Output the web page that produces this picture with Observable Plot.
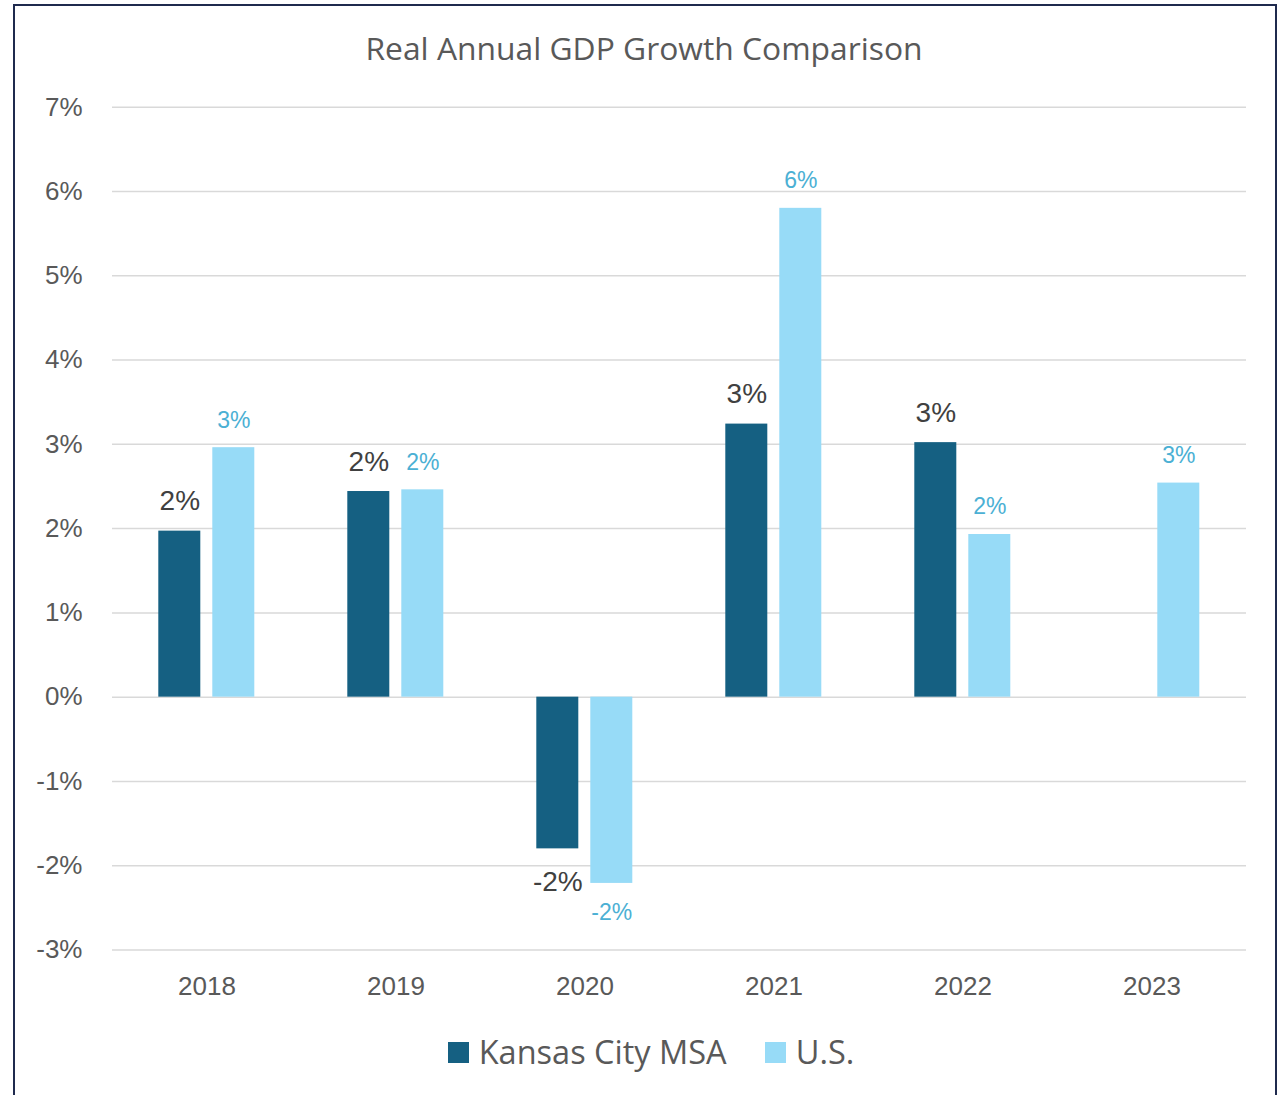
<!DOCTYPE html>
<html>
<head>
<meta charset="utf-8">
<script src="https://cdn.jsdelivr.net/npm/d3@7"></script>
<script src="https://cdn.jsdelivr.net/npm/@observablehq/plot@0.6"></script>
<style>
  html, body { margin: 0; padding: 0; background: #fff; }
  #wrap { position: relative; width: 1286px; height: 1095px; overflow: hidden; background: #fff; }
  #frame { position: absolute; left: 13px; top: 4px; width: 1264px; height: 1200px; border: 2px solid #1f2a4e; box-sizing: border-box; }
  #title { position: absolute; left: 0; width: 1288px; top: 27px; text-align: center; font-family: "Open Sans", sans-serif; font-size: 31.8px; color: #595959; line-height: 42px; }
  #chart { position: absolute; left: 0; top: 70px; }
  #legend { position: absolute; left: 8px; width: 1286px; top: 1030px; display: flex; justify-content: center; align-items: center; font-family: "Open Sans", sans-serif; font-size: 32.5px; color: #595959; line-height: 44px; }
  .item { display: flex; align-items: center; margin: 0 19px; }
  .sw { width: 21px; height: 21px; margin-right: 10px; }
</style>
</head>
<body>
<div id="wrap">
  <div id="frame"></div>
  <div id="title">Real Annual GDP Growth Comparison</div>
  <div id="chart"></div>
  <div id="legend"></div>
</div>
<script>
const years = ["2018", "2019", "2020", "2021", "2022", "2023"];
const kansasCity = [1.97, 2.44, -1.80, 3.24, 3.02, null];
const us = [2.96, 2.46, -2.21, 5.80, 1.93, 2.54];
const seriesNames = ["Kansas City MSA", "U.S."];
const seriesColors = ["#156082", "#97dbf7"];
const labelColors = ["#404040", "#4bb0d4"];
const yTicks = [-3, -2, -1, 0, 1, 2, 3, 4, 5, 6, 7];

const rows = [];
years.forEach((yr, i) => {
  if (kansasCity[i] != null) rows.push({year: yr, series: seriesNames[0], value: kansasCity[i]});
  if (us[i] != null) rows.push({year: yr, series: seriesNames[1], value: us[i]});
});
const fmt = v => Math.round(v) + "%";
const kcRows = rows.filter(d => d.series === seriesNames[0]);
const usRows = rows.filter(d => d.series === seriesNames[1]);

const chart = Plot.plot({
  width: 1286,
  height: 950,
  marginTop: 36.7,
  marginBottom: 70.5,
  marginLeft: 111.7,
  marginRight: 40.3,
  style: {fontFamily: "'Liberation Sans', Arial, sans-serif", fontSize: "26px", color: "#595959", background: "none", overflow: "visible"},
  fx: {domain: years, padding: 0, label: null},
  x: {domain: seriesNames, paddingInner: 0.2222, paddingOuter: 0.8611, axis: null},
  y: {domain: [-3, 7], axis: null},
  color: {domain: seriesNames, range: seriesColors},
  marks: [
    Plot.gridY(yTicks, {stroke: "#d9d9d9", strokeOpacity: 1, strokeWidth: 1.5}),
    Plot.axisY(yTicks, {tickSize: 0, tickPadding: 30, tickFormat: d => d + "%", fontSize: 26, fill: "#595959", label: null}),
    Plot.axisFx({anchor: "bottom", tickSize: 0, tickPadding: 27, fontSize: 26, fill: "#595959", label: null}),
    Plot.barY(rows, {fx: "year", x: "series", y: "value", fill: "series"}),
    Plot.text(kcRows.filter(d => d.value >= 0), {fx: "year", x: "series", y: "value", text: d => fmt(d.value), lineAnchor: "bottom", dy: -21, fontSize: 28, fill: labelColors[0]}),
    Plot.text(kcRows.filter(d => d.value < 0), {fx: "year", x: "series", y: "value", text: d => fmt(d.value), lineAnchor: "top", dy: 22, fontSize: 28, fill: labelColors[0]}),
    Plot.text(usRows.filter(d => d.value >= 0), {fx: "year", x: "series", y: "value", text: d => fmt(d.value), lineAnchor: "bottom", dy: -20, fontSize: 23, fill: labelColors[1]}),
    Plot.text(usRows.filter(d => d.value < 0), {fx: "year", x: "series", y: "value", text: d => fmt(d.value), lineAnchor: "top", dy: 20, fontSize: 23, fill: labelColors[1]})
  ]
});
document.getElementById("chart").appendChild(chart);

const legend = document.getElementById("legend");
seriesNames.forEach((name, i) => {
  const item = document.createElement("div");
  item.className = "item";
  const sw = document.createElement("div");
  sw.className = "sw";
  sw.style.background = seriesColors[i];
  const lab = document.createElement("span");
  lab.textContent = name;
  item.appendChild(sw);
  item.appendChild(lab);
  legend.appendChild(item);
});
</script>
</body>
</html>
